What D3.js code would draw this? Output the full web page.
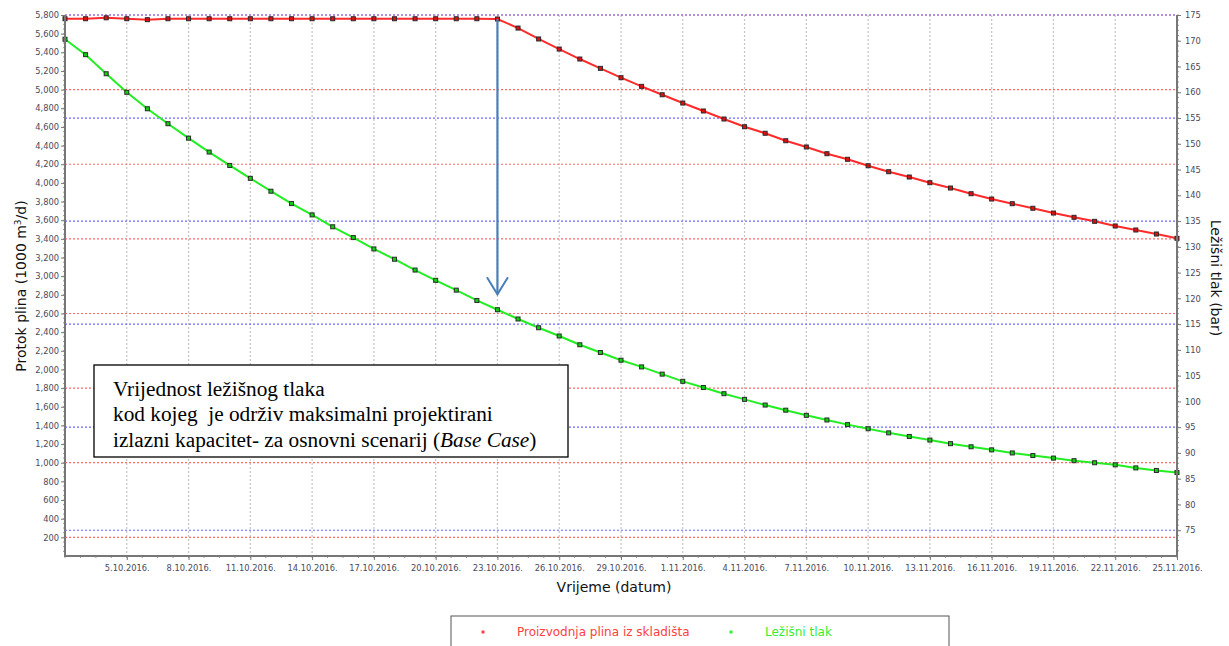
<!DOCTYPE html>
<html>
<head>
<meta charset="utf-8">
<script src="https://cdn.jsdelivr.net/npm/d3@7"></script>
<style>
  body { margin: 0; background: #fff; }
  svg { display: block; }
  .tick text { font-family: "DejaVu Sans", Verdana, sans-serif; font-size: 8.3px; fill: #4a4a5c; }
  .tick line { stroke: #777; }
</style>
</head>
<body>
<div id="viz"></div>
<script>
// daily dates (categories)
var dateStrings = [
  "2016-10-02","2016-10-03","2016-10-04","2016-10-05","2016-10-06","2016-10-07","2016-10-08",
  "2016-10-09","2016-10-10","2016-10-11","2016-10-12","2016-10-13","2016-10-14","2016-10-15",
  "2016-10-16","2016-10-17","2016-10-18","2016-10-19","2016-10-20","2016-10-21","2016-10-22",
  "2016-10-23","2016-10-24","2016-10-25","2016-10-26","2016-10-27","2016-10-28","2016-10-29",
  "2016-10-30","2016-10-31","2016-11-01","2016-11-02","2016-11-03","2016-11-04","2016-11-05",
  "2016-11-06","2016-11-07","2016-11-08","2016-11-09","2016-11-10","2016-11-11","2016-11-12",
  "2016-11-13","2016-11-14","2016-11-15","2016-11-16","2016-11-17","2016-11-18","2016-11-19",
  "2016-11-20","2016-11-21","2016-11-22","2016-11-23","2016-11-24","2016-11-25"
];

// Proizvodnja plina iz skladišta (1000 m3/d), left axis
var production = [
  5760, 5760, 5770, 5760, 5750, 5760, 5760,
  5760, 5760, 5760, 5760, 5760, 5760, 5760,
  5760, 5760, 5760, 5760, 5760, 5760, 5760,
  5757, 5660, 5543, 5435, 5328, 5228, 5128,
  5035, 4945, 4856, 4771, 4685, 4602, 4532,
  4452, 4385, 4313, 4253, 4184, 4120, 4063,
  4002, 3945, 3884, 3827, 3777, 3728, 3677,
  3631, 3588, 3538, 3495, 3452, 3406
];

// Ležišni tlak (bar), right axis
var pressure = [
  170.3, 167.3, 163.6, 160.0, 156.8, 153.9, 151.1,
  148.4, 145.8, 143.3, 140.8, 138.4, 136.2, 133.9,
  131.8, 129.6, 127.6, 125.5, 123.5, 121.6, 119.6,
  117.8, 116.0, 114.3, 112.7, 111.0, 109.5, 108.0,
  106.7, 105.3, 103.9, 102.7, 101.5, 100.4, 99.3,
  98.3, 97.3, 96.4, 95.5, 94.7, 93.9, 93.2,
  92.5, 91.8, 91.2, 90.6, 90.0, 89.5, 89.0,
  88.5, 88.1, 87.7, 87.1, 86.6, 86.2
];

// x tick labels
var xTickStrings = [
  "2016-10-05","2016-10-08","2016-10-11","2016-10-14","2016-10-17","2016-10-20",
  "2016-10-23","2016-10-26","2016-10-29","2016-11-01","2016-11-04","2016-11-07",
  "2016-11-10","2016-11-13","2016-11-16","2016-11-19","2016-11-22","2016-11-25"
];

// gridlines
var leftGrid = [200, 1000, 1800, 2600, 3400, 4200, 5000, 5800];
var rightGrid = [75, 95, 115, 135, 155, 175];

// annotation: arrow from production at this date down to this pressure
var arrowDate = "2016-10-23";
var arrowTipPressure = 120.8;
var noteLines = [
  ["Vrijednost ležišnog tlaka"],
  ["kod kojeg  je održiv maksimalni projektirani"],
  ["izlazni kapacitet- za osnovni scenarij (", "Base Case", ")"]
];

var seriesNames = ["Proizvodnja plina iz skladišta", "Ležišni tlak"];

// set the dimensions and margins of the graph
var W = 1229, H = 646;
var margin = { top: 15, right: 52, bottom: 90, left: 65 },
    width = W - margin.left - margin.right,
    height = H - margin.top - margin.bottom;

var parse = d3.timeParse("%Y-%m-%d");
var dates = dateStrings.map(parse);
var xTicks = xTickStrings.map(parse);

var root = d3.select("#viz").append("svg")
  .attr("width", W).attr("height", H);
root.append("rect").attr("width", W).attr("height", H).attr("fill", "#fff");

var svg = root.append("g")
  .attr("transform", "translate(" + margin.left + "," + margin.top + ")");

var x = d3.scaleTime().domain([dates[0], dates[dates.length - 1]]).range([0, width]);
var yL = d3.scaleLinear().domain([0, 5800]).range([height, 0]);
var yR = d3.scaleLinear().domain([70, 175]).range([height, 0]);

// vertical gridlines
svg.append("g").selectAll("line").data(xTicks).enter().append("line")
  .attr("x1", d => x(d)).attr("x2", d => x(d))
  .attr("y1", 0).attr("y2", height)
  .attr("stroke", "#c4c4c4").attr("stroke-width", 1.2)
  .attr("stroke-dasharray", "2,2");

// horizontal gridlines
svg.append("g").selectAll("line").data(leftGrid).enter().append("line")
  .attr("x1", 0).attr("x2", width)
  .attr("y1", d => yL(d)).attr("y2", d => yL(d))
  .attr("stroke", "#ff6a6a").attr("stroke-width", 1.2)
  .attr("stroke-dasharray", "2,2");
svg.append("g").selectAll("line").data(rightGrid).enter().append("line")
  .attr("x1", 0).attr("x2", width)
  .attr("y1", d => yR(d)).attr("y2", d => yR(d))
  .attr("stroke", "#6a6aff").attr("stroke-width", 1.2)
  .attr("stroke-dasharray", "2,2");

// minor ticks
var step = x(xTicks[1]) - x(xTicks[0]);
var minorX = [];
for (var p = x(xTicks[0]) % (step / 4); p <= width + 0.5; p += step / 4) minorX.push(p);
svg.append("g").selectAll("line").data(minorX).enter().append("line")
  .attr("x1", d => d).attr("x2", d => d).attr("y1", height).attr("y2", height + 2)
  .attr("stroke", "#999");
svg.append("g").selectAll("line").data(d3.range(50, 5800, 50)).enter().append("line")
  .attr("x1", -2).attr("x2", 0).attr("y1", d => yL(d)).attr("y2", d => yL(d))
  .attr("stroke", "#999");
svg.append("g").selectAll("line").data(d3.range(71, 176, 1)).enter().append("line")
  .attr("x1", width).attr("x2", width + 2).attr("y1", d => yR(d)).attr("y2", d => yR(d))
  .attr("stroke", "#999");

// axes
var xAxis = d3.axisBottom(x).tickValues(xTicks)
  .tickFormat(d3.timeFormat("%-d.%-m.%Y.")).tickSize(4).tickPadding(5);
var yAxisL = d3.axisLeft(yL).tickValues(d3.range(200, 5801, 200))
  .tickFormat(d3.format(",")).tickSize(4).tickPadding(2);
var yAxisR = d3.axisRight(yR).tickValues(d3.range(75, 176, 5))
  .tickSize(4).tickPadding(4);

svg.append("g").attr("transform", "translate(0," + height + ")").call(xAxis)
  .call(g => g.select(".domain").remove());
svg.append("g").call(yAxisL).call(g => g.select(".domain").remove());
svg.append("g").attr("transform", "translate(" + width + ",0)").call(yAxisR)
  .call(g => g.select(".domain").remove());

// lines
var dataProd = dates.map((d, i) => ({ date: d, v: production[i] }));
var dataPres = dates.map((d, i) => ({ date: d, v: pressure[i] }));

var lineL = d3.line().x(d => x(d.date)).y(d => yL(d.v));
var lineR = d3.line().x(d => x(d.date)).y(d => yR(d.v));

svg.append("path").datum(dataProd)
  .attr("fill", "none").attr("stroke", "#ff2a2a").attr("stroke-width", 2)
  .attr("d", lineL);
svg.append("path").datum(dataPres)
  .attr("fill", "none").attr("stroke", "#22ee22").attr("stroke-width", 2)
  .attr("d", lineR);

// markers
svg.append("g").selectAll("rect").data(dataProd).enter().append("rect")
  .attr("x", d => x(d.date) - 2).attr("y", d => yL(d.v) - 2)
  .attr("width", 4).attr("height", 4)
  .attr("fill", "#e01010").attr("stroke", "#2a2a2a").attr("stroke-width", 1);
svg.append("g").selectAll("rect").data(dataPres).enter().append("rect")
  .attr("x", d => x(d.date) - 2).attr("y", d => yR(d.v) - 2)
  .attr("width", 4).attr("height", 4)
  .attr("fill", "#10d010").attr("stroke", "#2a2a2a").attr("stroke-width", 1);

// arrow
var ai = dateStrings.indexOf(arrowDate);
var ax = x(dates[ai]), ay1 = yL(production[ai]), ay2 = yR(arrowTipPressure);
svg.append("line")
  .attr("x1", ax).attr("x2", ax).attr("y1", ay1).attr("y2", ay2)
  .attr("stroke", "#4a7ebb").attr("stroke-width", 2.2);
svg.append("path")
  .attr("d", "M" + (ax - 10.5) + "," + (ay2 - 17) + "L" + ax + "," + ay2 + "L" + (ax + 10.5) + "," + (ay2 - 17))
  .attr("fill", "none").attr("stroke", "#4a7ebb").attr("stroke-width", 2);

// axis lines
svg.append("path")
  .attr("d", "M0,0V" + height + "H" + width + "V0")
  .attr("fill", "none").attr("stroke", "#777").attr("stroke-width", 2);

// annotation box
var note = root.append("g");
note.append("rect")
  .attr("x", 94).attr("y", 365).attr("width", 474).attr("height", 92)
  .attr("fill", "#fff").attr("stroke", "#000").attr("stroke-width", 1.3);
noteLines.forEach((parts, i) => {
  var t = note.append("text")
    .attr("x", 113).attr("y", 395.7 + i * 25.5)
    .style("font-family", "'Liberation Serif', 'Times New Roman', serif")
    .style("font-size", "21.3px").style("white-space", "pre").attr("fill", "#000");
  parts.forEach((s, j) => {
    t.append("tspan").text(s).style("font-style", j === 1 ? "italic" : "normal");
  });
});

// axis labels
var labelFont = "'DejaVu Sans', Verdana, sans-serif";
var ylab = root.append("text")
  .attr("transform", "translate(25.5," + 286 + ") rotate(-90)")
  .attr("text-anchor", "middle")
  .style("font-family", labelFont).style("font-size", "14px").attr("fill", "#111");
ylab.append("tspan").text("Protok plina (1000 m");
ylab.append("tspan").text("3").style("font-size", "9px").attr("dy", "-5");
ylab.append("tspan").text("/d)").attr("dy", "5");

root.append("text")
  .attr("transform", "translate(1211,278) rotate(90)")
  .attr("text-anchor", "middle")
  .style("font-family", labelFont).style("font-size", "14px").attr("fill", "#111")
  .text("Ležišni tlak (bar)");

root.append("text")
  .attr("x", 614).attr("y", 592)
  .attr("text-anchor", "middle")
  .style("font-family", labelFont).style("font-size", "14px").attr("fill", "#111")
  .text("Vrijeme (datum)");

// legend
var legend = root.append("g");
legend.append("rect")
  .attr("x", 451).attr("y", 616).attr("width", 498).attr("height", 44)
  .attr("fill", "#fff").attr("stroke", "#555").attr("stroke-width", 1);
var legColors = ["#ff4040", "#33ee33"];
var legX = [483, 731];
seriesNames.forEach((name, i) => {
  legend.append("rect")
    .attr("x", legX[i] - 1.5).attr("y", 630.5).attr("width", 3).attr("height", 3)
    .attr("fill", legColors[i]);
  legend.append("text")
    .attr("x", legX[i] + 34).attr("y", 636)
    .style("font-family", labelFont).style("font-size", "12px")
    .attr("fill", legColors[i]).text(name);
});
</script>
</body>
</html>
